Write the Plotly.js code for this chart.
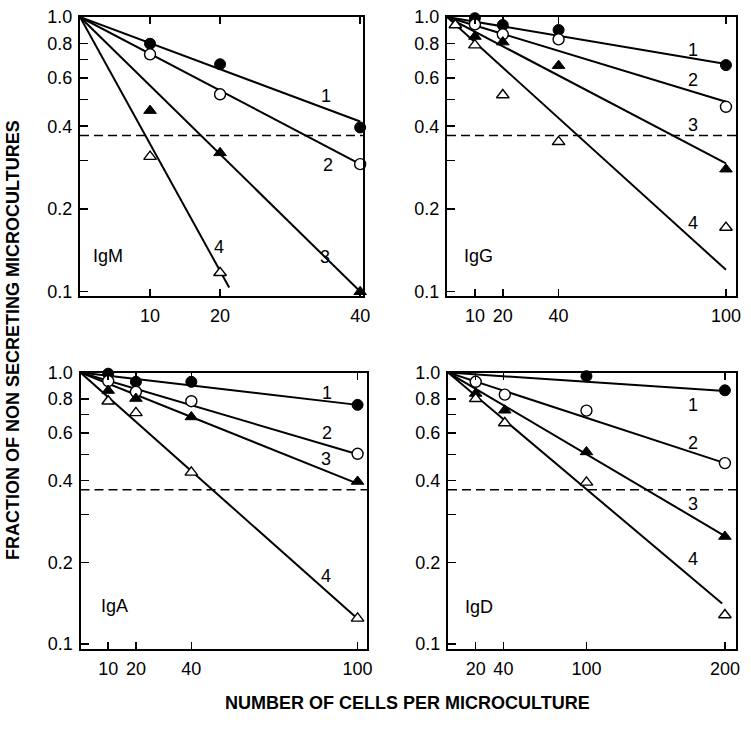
<!DOCTYPE html>
<html>
<head>
<meta charset="utf-8">
<script src="https://cdn.plot.ly/plotly-3.0.1.min.js"></script>
<style>html,body{margin:0;padding:0;background:#fff;}#chart{width:751px;height:731px;}</style>
</head>
<body>
<div id="chart"></div>
<script>
// ---------------- DATA ----------------
const threshold = 0.37;
const yTickVals = [0.1, 0.2, 0.3, 0.4, 0.5, 0.6, 0.7, 0.8, 1.0];
const yTickText = ['0.1', '0.2', '', '0.4', '', '0.6', '', '0.8', '1.0'];

// IgM
const igmX = [10, 20, 40];
const igmS1 = [0.799, 0.673, 0.396];
const igmS2 = [0.731, 0.523, 0.291];
const igmS3 = [0.456, 0.320, 0.0998];
const igmS4x = [10, 20];
const igmS4 = [0.310, 0.117];
const igmFitX = [40, 40, 40, 21.3];
const igmFitY = [0.416, 0.291, 0.100, 0.1035];
const igmTicks = [10, 20, 40];

// IgG
const iggX = [10, 20, 40, 100];
const iggS1 = [0.99, 0.935, 0.897, 0.668];
const iggS2 = [0.94, 0.865, 0.829, 0.471];
const iggS3 = [0.849, 0.81, 0.665, 0.279];
const iggS4x = [3, 10, 20, 40, 100];
const iggS4 = [0.935, 0.79, 0.52, 0.351, 0.171];
const iggFitX = [100, 100, 100, 100];
const iggFitY = [0.674, 0.491, 0.293, 0.120];
const iggTicks = [10, 20, 40, 100];

// IgA
const igaX = [10, 20, 40, 100];
const igaS1 = [0.99, 0.924, 0.924, 0.76];
const igaS2 = [0.93, 0.849, 0.784, 0.502];
const igaS3 = [0.858, 0.802, 0.686, 0.397];
const igaS4 = [0.784, 0.71, 0.429, 0.1244];
const igaFitX = [100, 100, 100, 100];
const igaFitY = [0.76, 0.50, 0.39, 0.124];
const igaTicks = [10, 20, 40, 100];

// IgD
const igdS1x = [100, 200];
const igdS1 = [0.969, 0.86];
const igdX = [20, 41, 100, 200];
const igdS2 = [0.924, 0.829, 0.724, 0.464];
const igdS3 = [0.837, 0.726, 0.51, 0.249];
const igdS4 = [0.80, 0.652, 0.394, 0.128];
const igdFitX = [200, 200, 200, 198];
const igdFitY = [0.855, 0.464, 0.25, 0.141];
const igdTicks = [20, 40, 100, 200];

// curve number label positions [x, y]
const lblIgM = [[35.1, 0.515], [35.4, 0.29], [35.0, 0.134], [19.9, 0.145]];
const lblIgG = [[88.3, 0.76], [88.3, 0.59], [88.3, 0.403], [88.3, 0.178]];
const lblIgA = [[88.9, 0.84], [88.9, 0.597], [88.5, 0.479], [88.5, 0.178]];
const lblIgD = [[177, 0.762], [177, 0.55], [177, 0.327], [177, 0.205]];
const panelNames = ['IgM', 'IgG', 'IgA', 'IgD'];
const panelNamePos = [[1.6, 0.135], [5.5, 0.135], [6.8, 0.138], [10.6, 0.137]];

// axis x ranges (max)
const xMax = [40.45, 103.6, 103.4, 208];

// ---------------- STYLES ----------------
const FONT = 'Liberation Sans, Arial, Helvetica, sans-serif';
const mk = {
  s1: {symbol: 'circle', size: 11, color: 'black', line: {color: 'black', width: 1}},
  s2: {symbol: 'circle', size: 11, color: 'white', line: {color: 'black', width: 1.4}},
  s3: {symbol: 'triangle-up', size: 11, color: 'black', line: {color: 'black', width: 1}},
  s4: {symbol: 'triangle-up', size: 11, color: 'white', line: {color: 'black', width: 1.4}}
};

const traces = [];
function addPanel(idx, fitX, fitY, series) {
  const xa = idx === 1 ? 'x' : 'x' + idx;
  const ya = idx === 1 ? 'y' : 'y' + idx;
  traces.push({x: [0, xMax[idx - 1]], y: [threshold, threshold], mode: 'lines',
    line: {color: 'black', width: 1.4, dash: '9px,5px'}, xaxis: xa, yaxis: ya, hoverinfo: 'skip'});
  for (let i = 0; i < fitX.length; i++) {
    traces.push({x: [0, fitX[i]], y: [1.0, fitY[i]], mode: 'lines',
      line: {color: 'black', width: 2}, xaxis: xa, yaxis: ya});
  }
  series.forEach(s => {
    traces.push({x: s.x, y: s.y, mode: 'markers', marker: s.m, xaxis: xa, yaxis: ya, cliponaxis: false});
  });
}

addPanel(1, igmFitX, igmFitY, [
  {x: igmX, y: igmS1, m: mk.s1}, {x: igmX, y: igmS2, m: mk.s2},
  {x: igmX, y: igmS3, m: mk.s3}, {x: igmS4x, y: igmS4, m: mk.s4}]);
addPanel(2, iggFitX, iggFitY, [
  {x: iggX, y: iggS1, m: mk.s1}, {x: iggX, y: iggS2, m: mk.s2},
  {x: iggX, y: iggS3, m: mk.s3}, {x: iggS4x, y: iggS4, m: mk.s4}]);
addPanel(3, igaFitX, igaFitY, [
  {x: igaX, y: igaS1, m: mk.s1}, {x: igaX, y: igaS2, m: mk.s2},
  {x: igaX, y: igaS3, m: mk.s3}, {x: igaX, y: igaS4, m: mk.s4}]);
addPanel(4, igdFitX, igdFitY, [
  {x: igdS1x, y: igdS1, m: mk.s1}, {x: igdX, y: igdS2, m: mk.s2},
  {x: igdX, y: igdS3, m: mk.s3}, {x: igdX, y: igdS4, m: mk.s4}]);

const W = 751, H = 731;
function xdom(l, r) { return [l / W, r / W]; }
function ydom(top, bot) { return [1 - bot / H, 1 - top / H]; }

const tickFont = {family: FONT, size: 18, color: 'black'};
function xAxis(dom, max, ticks, anchor) {
  return {domain: dom, range: [0, max], anchor: anchor, showgrid: false, zeroline: false,
    showline: true, linecolor: 'black', linewidth: 2, mirror: 'ticks',
    ticks: 'inside', ticklen: 7, tickwidth: 1.5, tickcolor: 'black',
    tickvals: ticks, ticktext: ticks.map(String), tickfont: tickFont, ticklabelstandoff: 2};
}
function yAxis(dom, lo, anchor) {
  return {domain: dom, type: 'log', range: [lo, 0], anchor: anchor, showgrid: false, zeroline: false,
    showline: true, linecolor: 'black', linewidth: 2, mirror: true,
    ticks: 'inside', ticklen: 8, tickwidth: 1.5, tickcolor: 'black',
    tickvals: yTickVals, ticktext: yTickText, tickfont: tickFont, ticklabelstandoff: 2};
}

const annotations = [];
const lbls = [lblIgM, lblIgG, lblIgA, lblIgD];
lbls.forEach((arr, p) => {
  const xa = p === 0 ? 'x' : 'x' + (p + 1);
  const ya = p === 0 ? 'y' : 'y' + (p + 1);
  arr.forEach((pt, i) => {
    annotations.push({x: pt[0], y: Math.log10(pt[1]), xref: xa, yref: ya, text: String(i + 1),
      showarrow: false, font: {family: FONT, size: 18, color: 'black'}});
  });
  annotations.push({x: panelNamePos[p][0], y: Math.log10(panelNamePos[p][1]), xref: xa, yref: ya,
    text: panelNames[p], showarrow: false, xanchor: 'left',
    font: {family: FONT, size: 18, color: 'black'}});
});
annotations.push({x: 407 / W, y: 1 - 703 / H, xref: 'paper', yref: 'paper',
  xanchor: 'center', yanchor: 'middle',
  text: '<b>NUMBER OF CELLS PER MICROCULTURE</b>', showarrow: false,
  font: {family: FONT, size: 18, color: 'black'}});
annotations.push({x: 13 / W, y: 1 - 340 / H, xref: 'paper', yref: 'paper', textangle: -90,
  xanchor: 'center', yanchor: 'middle',
  text: '<b>FRACTION OF NON SECRETING MICROCULTURES</b>', showarrow: false,
  font: {family: FONT, size: 18, color: 'black'}});

const layout = {
  width: W, height: H, margin: {l: 0, r: 0, t: 0, b: 0},
  paper_bgcolor: 'white', plot_bgcolor: 'white', showlegend: false,
  xaxis: xAxis(xdom(80, 363.3), xMax[0], igmTicks, 'y'),
  yaxis: yAxis(ydom(17, 296), -1.0164, 'x'),
  xaxis2: xAxis(xdom(447, 736), xMax[1], iggTicks, 'y2'),
  yaxis2: yAxis(ydom(17, 296), -1.0164, 'x2'),
  xaxis3: xAxis(xdom(80.5, 367), xMax[2], igaTicks, 'y3'),
  yaxis3: yAxis(ydom(372.5, 649), -1.018, 'x3'),
  xaxis4: xAxis(xdom(448, 736), xMax[3], igdTicks, 'y4'),
  yaxis4: yAxis(ydom(372.5, 649), -1.018, 'x4'),
  annotations: annotations
};

Plotly.newPlot('chart', traces, layout, {staticPlot: true, displayModeBar: false});
</script>
</body>
</html>
